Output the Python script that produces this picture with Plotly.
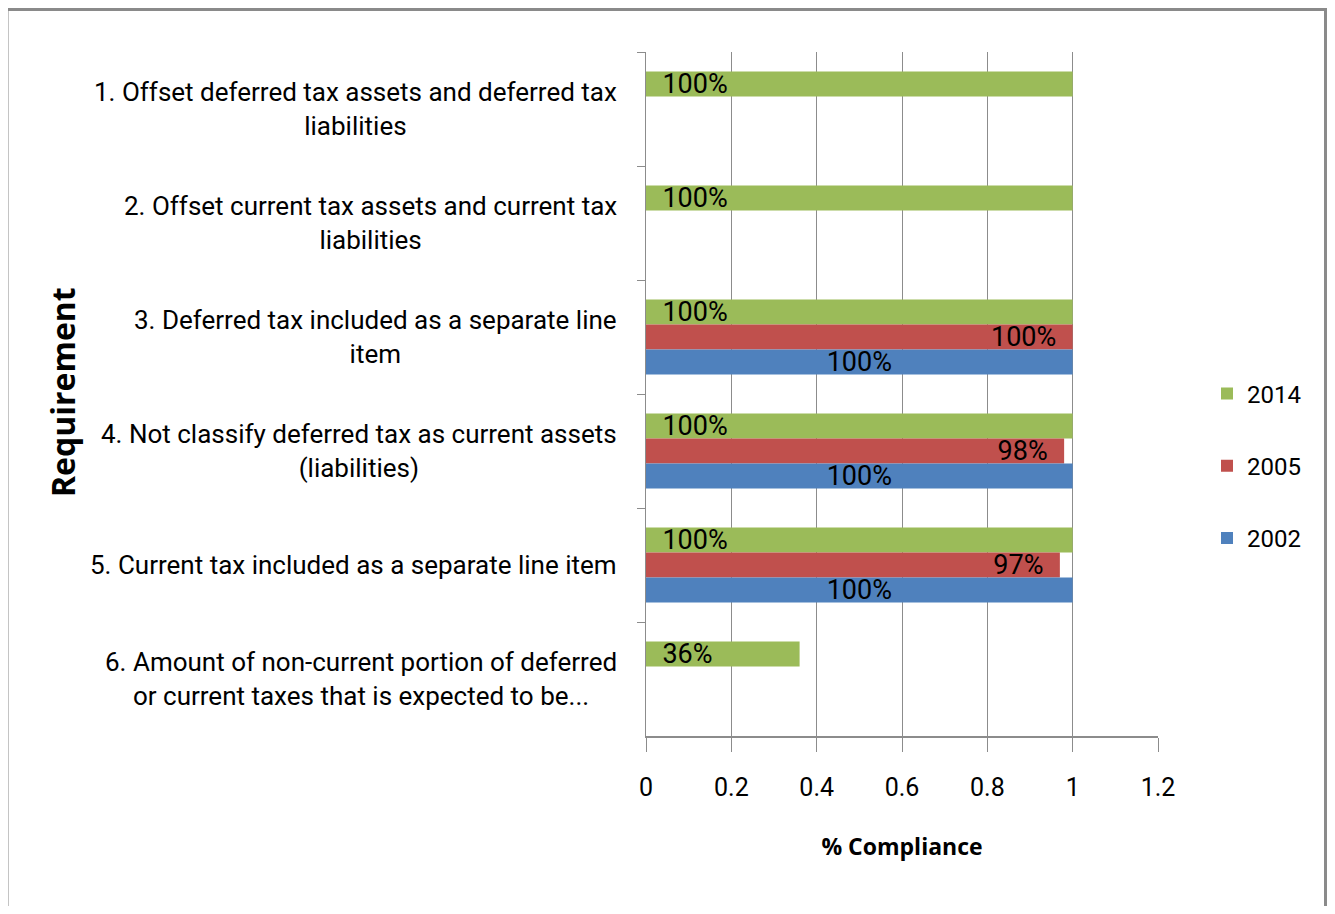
import plotly.graph_objects as go

categories = [
    "1. Offset deferred tax assets and deferred tax<br>liabilities",
    "2. Offset current tax assets and current tax<br>liabilities",
    "3. Deferred tax included as a separate line<br>item",
    "4. Not classify deferred tax as current assets<br>(liabilities)",
    "5. Current tax included as a separate line item",
    "6. Amount of non-current portion of deferred<br>or current taxes that is expected to be...",
]
series_names = ["2014", "2005", "2002"]
values_2014 = [1.00, 1.00, 1.00, 1.00, 1.00, 0.36]
values_2005 = [None, None, 1.00, 0.98, 0.97, None]
values_2002 = [None, None, 1.00, 1.00, 1.00, None]
x_ticks = [0, 0.2, 0.4, 0.6, 0.8, 1, 1.2]
x_tick_labels = ["0", "0.2", "0.4", "0.6", "0.8", "1", "1.2"]

colors = {"2014": "#9BBB59", "2005": "#C0504D", "2002": "#4F81BD"}
anchors = {"2014": "start", "2005": "end", "2002": "middle"}
series_values = {"2014": values_2014, "2005": values_2005, "2002": values_2002}

FONT = "Roboto, Liberation Sans, sans-serif"
BOLD = "Open Sans, DejaVu Sans, sans-serif"
NB = "\u00a0"

# page has an 8px body margin; figure is sized so it fits the 1335x914 window
OFF = 8
W, H = 1335 - 2 * OFF, 914 - 2 * OFF
ML, MT = 646 - OFF, 52 - OFF
pw, ph = 512, 684
MR, MB = W - ML - pw, H - MT - ph


def px_x(px):
    return (px - OFF - ML) / pw


def px_y(py):
    return 1 - (py - OFF - MT) / ph


def label(v, name):
    if v is None:
        return ""
    s = f"{round(v * 100)}%"
    if anchors[name] == "start":
        return NB + NB + s
    if anchors[name] == "end":
        return s + NB + NB
    return s


fig = go.Figure()
for name in series_names:
    vals = series_values[name]
    fig.add_trace(go.Bar(
        y=categories, x=vals, orientation="h", name=name,
        marker=dict(color=colors[name], line=dict(width=0)),
        text=[label(v, name) for v in vals],
        textposition="inside", insidetextanchor=anchors[name],
        constraintext="none",
        textfont=dict(family=FONT, size=27, color="#000000"),
        legendgroup=name,
        hoverinfo="x+y",
    ))

annotations = []
for c in categories:
    annotations.append(dict(
        x=0, xref="paper", y=c, yref="y", xanchor="right", yanchor="middle",
        xshift=-27, text=c, showarrow=False, align="center",
        font=dict(family=FONT, size=26, color="#000000"),
    ))
annotations.append(dict(
    x=px_x(63), xref="paper", y=px_y(392), yref="paper", text="<b>Requirement</b>",
    textangle=-90, showarrow=False, xanchor="center", yanchor="middle",
    font=dict(family=BOLD, size=32, color="#000000"),
))

fig.update_layout(
    width=W, height=H,
    margin=dict(l=ML, r=MR, t=MT, b=MB, pad=0),
    paper_bgcolor="white", plot_bgcolor="white",
    barmode="group", bargap=0.34, bargroupgap=0,
    showlegend=True,
    legend=dict(
        x=px_x(1207), y=px_y(466), xanchor="left", yanchor="middle",
        traceorder="grouped", tracegroupgap=38,
        font=dict(family=FONT, size=24, color="#000000"),
        bgcolor="rgba(0,0,0,0)",
    ),
    xaxis=dict(
        range=[0, 1.2], tickvals=x_ticks, ticktext=x_tick_labels,
        showgrid=True, gridcolor="#8c8c8c", gridwidth=1,
        showline=True, linecolor="#8c8c8c", linewidth=2,
        ticks="outside", ticklen=14, tickcolor="#8c8c8c", tickwidth=1,
        ticklabelstandoff=14,
        tickfont=dict(family=FONT, size=25, color="#000000"),
        zeroline=False,
        title=dict(text="<b>% Compliance</b>", standoff=38,
                   font=dict(family=BOLD, size=23, color="#000000")),
    ),
    yaxis=dict(
        categoryorder="array", categoryarray=categories, autorange="reversed",
        showticklabels=False, showgrid=False, zeroline=False,
        showline=True, linecolor="#8c8c8c", linewidth=1,
        ticks="outside", tickson="boundaries", ticklen=8, tickcolor="#8c8c8c",
    ),
    annotations=annotations,
    shapes=[dict(
        type="rect", xref="paper", yref="paper",
        x0=px_x(7), x1=px_x(1325.5), y0=px_y(930), y1=px_y(9.5),
        line=dict(color="#8a8a8a", width=3), fillcolor="rgba(0,0,0,0)", layer="below",
    )],
)

fig.write_html("out.html")
